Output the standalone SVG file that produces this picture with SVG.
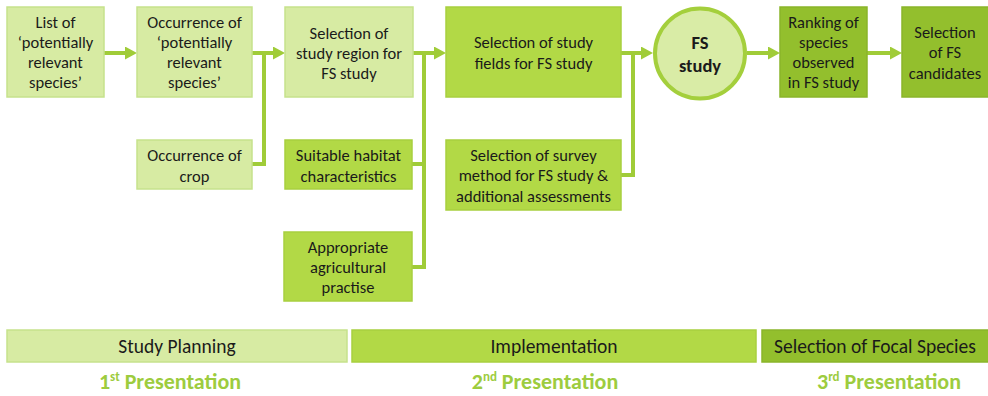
<svg xmlns="http://www.w3.org/2000/svg" width="988" height="396" viewBox="0 0 988 396">
  <defs>
    <style>
      .box { stroke-width: 1.5; }
      .light { fill: #d7eba3; stroke: #c6e28c; }
      .mid { fill: #b2d946; stroke: #a8cf3f; }
      .dark { fill: #93bf2d; stroke: #8ab52a; }
      .lbl { font-family: Carlito, Lato, "Liberation Sans", sans-serif; font-size: 16.5px; fill: #1a1a1a; text-anchor: middle; }
      .bold { font-weight: bold; font-size: 18.5px; }
      .bar { font-size: 19.5px; }
      .pres { font-family: Carlito, Lato, "Liberation Sans", sans-serif; font-size: 22px; font-weight: bold; fill: #9dcc3e; text-anchor: middle; }
      .sup { font-size: 13px; }
      .wire { fill: none; stroke: #a0cc38; stroke-width: 4; }
    </style>
    <marker id="head" markerUnits="userSpaceOnUse" markerWidth="12" markerHeight="13" refX="1" refY="6.5" orient="auto">
      <path d="M0,0 L12,6.5 L0,13 Z" fill="#a0cc38"/>
    </marker>
  </defs>

  <!-- connectors -->
  <g id="connectors">
    <line class="wire" x1="104" y1="53" x2="126" y2="53" marker-end="url(#head)"/>
    <polyline class="wire" points="252,164 264,164 264,53"/>
    <line class="wire" x1="252" y1="53" x2="274" y2="53" marker-end="url(#head)"/>
    <polyline class="wire" points="412,267 424,267 424,53"/>
    <line class="wire" x1="412" y1="164" x2="424" y2="164"/>
    <line class="wire" x1="413" y1="53" x2="435" y2="53" marker-end="url(#head)"/>
    <polyline class="wire" points="621,175 633,175 633,53"/>
    <line class="wire" x1="621" y1="53" x2="642" y2="53" marker-end="url(#head)"/>
    <line class="wire" x1="747" y1="53" x2="769" y2="53" marker-end="url(#head)"/>
    <line class="wire" x1="867" y1="53" x2="891" y2="53" marker-end="url(#head)"/>
  </g>

  <g id="list-species">
    <rect class="box light" x="7" y="7" width="97" height="90"/>
    <text class="lbl" x="55.5" y="28">List of</text>
    <text class="lbl" x="55.5" y="48">‘potentially</text>
    <text class="lbl" x="55.5" y="68">relevant</text>
    <text class="lbl" x="55.5" y="88">species’</text>
  </g>

  <g id="occurrence-species">
    <rect class="box light" x="137" y="7" width="115" height="90"/>
    <text class="lbl" x="194.5" y="28">Occurrence of</text>
    <text class="lbl" x="194.5" y="48">‘potentially</text>
    <text class="lbl" x="194.5" y="68">relevant</text>
    <text class="lbl" x="194.5" y="88">species’</text>
  </g>

  <g id="occurrence-crop">
    <rect class="box light" x="137" y="140" width="115" height="49"/>
    <text class="lbl" x="194.5" y="161">Occurrence of</text>
    <text class="lbl" x="194.5" y="182">crop</text>
  </g>

  <g id="study-region">
    <rect class="box light" x="285" y="7" width="128" height="90"/>
    <text class="lbl" x="349" y="39">Selection of</text>
    <text class="lbl" x="349" y="59">study region for</text>
    <text class="lbl" x="349" y="79">FS study</text>
  </g>

  <g id="habitat">
    <rect class="box mid" x="285" y="140" width="127" height="49"/>
    <text class="lbl" x="348.5" y="161">Suitable habitat</text>
    <text class="lbl" x="348.5" y="182">characteristics</text>
  </g>

  <g id="agri-practise">
    <rect class="box mid" x="284" y="232" width="128" height="69"/>
    <text class="lbl" x="348" y="253">Appropriate</text>
    <text class="lbl" x="348" y="273">agricultural</text>
    <text class="lbl" x="348" y="293">practise</text>
  </g>

  <g id="study-fields">
    <rect class="box mid" x="446" y="7" width="175" height="90"/>
    <text class="lbl" x="533.5" y="48">Selection of study</text>
    <text class="lbl" x="533.5" y="69">fields for FS study</text>
  </g>

  <g id="survey-method">
    <rect class="box mid" x="446" y="140" width="175" height="70"/>
    <text class="lbl" x="533.5" y="161">Selection of survey</text>
    <text class="lbl" x="533.5" y="181">method for FS study &amp;</text>
    <text class="lbl" x="533.5" y="202">additional assessments</text>
  </g>

  <g id="fs-study">
    <circle cx="700" cy="53.5" r="45" fill="#d9eca6" stroke="#a4cf3c" stroke-width="4"/>
    <text class="lbl bold" x="700" y="49">FS</text>
    <text class="lbl bold" x="700" y="72">study</text>
  </g>

  <g id="ranking">
    <rect class="box dark" x="780" y="7" width="87" height="90"/>
    <text class="lbl" x="823.5" y="28">Ranking of</text>
    <text class="lbl" x="823.5" y="48">species</text>
    <text class="lbl" x="823.5" y="68">observed</text>
    <text class="lbl" x="823.5" y="88">in FS study</text>
  </g>

  <g id="candidates">
    <rect class="box dark" x="902" y="7" width="90" height="90"/>
    <text class="lbl" x="945" y="38">Selection</text>
    <text class="lbl" x="945" y="58">of FS</text>
    <text class="lbl" x="945" y="79">candidates</text>
  </g>

  <!-- phase bars -->
  <g id="phase-planning">
    <rect class="box light" x="7" y="330" width="340" height="32"/>
    <text class="lbl bar" x="177" y="353">Study Planning</text>
    <text class="pres" x="170" y="389">1<tspan class="sup" dy="-8">st</tspan><tspan dy="8"> Presentation</tspan></text>
  </g>

  <g id="phase-implementation">
    <rect class="box mid" x="352" y="330" width="404" height="32"/>
    <text class="lbl bar" x="554" y="353">Implementation</text>
    <text class="pres" x="545" y="389">2<tspan class="sup" dy="-8">nd</tspan><tspan dy="8"> Presentation</tspan></text>
  </g>

  <g id="phase-selection">
    <rect class="box dark" x="762" y="330" width="230" height="32"/>
    <text class="lbl bar" x="875" y="353">Selection of Focal Species</text>
    <text class="pres" x="889" y="389">3<tspan class="sup" dy="-8">rd</tspan><tspan dy="8"> Presentation</tspan></text>
  </g>
</svg>
